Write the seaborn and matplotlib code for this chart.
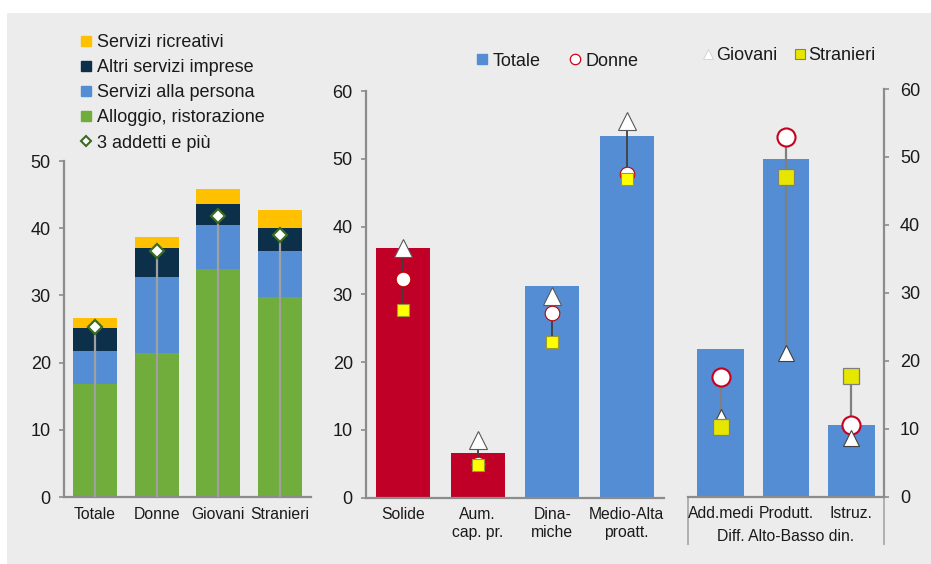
import numpy as np
import pandas as pd
import seaborn as sns
import matplotlib.pyplot as plt
from matplotlib.lines import Line2D
from matplotlib.patches import Rectangle

# ---- data: left panel (stacked) ----
groups = ["Totale", "Donne", "Giovani", "Stranieri"]
alloggio = [16.8, 21.4, 33.9, 29.8]
persona = [5.0, 11.3, 6.6, 6.8]
altri_imprese = [3.4, 4.4, 3.1, 3.5]
ricreativi = [1.4, 1.6, 2.2, 2.6]
addetti3 = [25.3, 36.6, 41.8, 39.0]

# ---- data: middle panel ----
mid_cats = ["Solide", "Aum.\ncap. pr.", "Dina-\nmiche", "Medio-Alta\nproatt."]
mid_totale = [36.8, 6.6, 31.2, 53.3]
mid_donne = [32.2, 4.9, 27.3, 47.7]
mid_giovani = [36.9, 8.5, 29.8, 55.6]
mid_stranieri = [27.7, 4.8, 22.9, 47.0]

# ---- data: right panel ----
right_cats = ["Add.medi", "Produtt.", "Istruz."]
right_group = "Diff. Alto-Basso din."
right_totale = [21.8, 49.7, 10.5]
right_donne = [17.6, 53.0, 10.5]
right_giovani = [11.8, 21.2, 8.6]
right_stranieri = [10.2, 47.0, 17.7]

# colours
BG = "#ececec"
AXC = "#8c8c8c"
TXT = "#1a1a1a"
GREEN = "#70ad3c"
BLUE = "#548dd4"
NAVY = "#0c2f4a"
YELLOW = "#ffc000"
RED = "#c00027"

TICK_FS = 13
CAT_FS = 11.3
LEG_FS = 13

sns.set_theme(style="white")
plt.rcParams["font.family"] = ["Liberation Sans", "DejaVu Sans"]
plt.rcParams["text.color"] = TXT

W, H = 931, 564
fig = plt.figure(figsize=(W / 100, H / 100), dpi=100)
fig.patch.set_facecolor("white")
fig.add_artist(Rectangle((7 / W, 0), 1, (H - 13) / H, transform=fig.transFigure,
                         facecolor=BG, edgecolor="none", zorder=-10))


def px_axes(x0, x1, y_top, y_bot):
    return fig.add_axes([x0 / W, 1 - y_bot / H, (x1 - x0) / W, (y_bot - y_top) / H])


def px(x, y):
    return (x / W, 1 - y / H)


def style_axes(ax, side, n):
    ax.set_facecolor("none")
    for s in ax.spines.values():
        s.set_visible(False)
    for s in ("bottom", side):
        ax.spines[s].set_visible(True)
        ax.spines[s].set_color(AXC)
        ax.spines[s].set_linewidth(1.6)
    if side == "right":
        ax.yaxis.tick_right()
    else:
        ax.yaxis.tick_left()
    ax.tick_params(axis="y", direction="out", length=3.5, width=1.2, color=AXC,
                   pad=6, labelsize=TICK_FS, labelcolor=TXT)
    ax.tick_params(axis="x", which="major", length=0, pad=7, labelsize=CAT_FS,
                   labelcolor=TXT)
    ax.set_xticks(np.arange(n + 1) - 0.5, minor=True)
    ax.tick_params(axis="x", which="minor", direction="out", length=3, width=1.2,
                   color=AXC)
    ax.set_xlim(-0.5, n - 0.5)
    ax.set_xlabel("")
    ax.set_ylabel("")


# =========================
# left panel
# =========================
ax1 = px_axes(64, 311, 161, 497)
layers = [alloggio, persona, altri_imprese, ricreativi]
colors = [GREEN, BLUE, NAVY, YELLOW]
cum = np.cumsum(np.array(layers), axis=0)
for level, c in zip(cum[::-1], colors[::-1]):
    sns.barplot(x=groups, y=level, color=c, saturation=1, width=0.71, linewidth=0, ax=ax1)
xs = np.arange(len(groups))
ax1.vlines(xs, 0, addetti3, color="#a0a0a0", lw=1.6, zorder=3)
ax1.plot(xs, addetti3, ls="none", marker="D", ms=7, mfc="white", mec="#3b6b22",
         mew=1.6, zorder=4, clip_on=False)
ax1.set_ylim(0, 50)
ax1.set_yticks(range(0, 51, 10))
style_axes(ax1, "left", len(groups))

fig.legend(
    handles=[
        Line2D([], [], ls="none", marker="s", ms=6.5, mfc=YELLOW, mec=YELLOW),
        Line2D([], [], ls="none", marker="s", ms=6.5, mfc=NAVY, mec=NAVY),
        Line2D([], [], ls="none", marker="s", ms=6.5, mfc=BLUE, mec=BLUE),
        Line2D([], [], ls="none", marker="s", ms=6.5, mfc=GREEN, mec=GREEN),
        Line2D([], [], ls="none", marker="D", ms=5, mfc="white", mec="#3b6b22", mew=1.5),
    ],
    labels=["Servizi ricreativi", "Altri servizi imprese", "Servizi alla persona",
            "Alloggio, ristorazione", "3 addetti e più"],
    loc="upper left", bbox_to_anchor=px(80, 34), frameon=False, borderpad=0,
    borderaxespad=0, handlelength=0.7, handletextpad=0.25, labelspacing=0.45,
    fontsize=LEG_FS,
)

# =========================
# middle panel
# =========================
ax2 = px_axes(366, 664, 91, 497.7)
mid_df = pd.DataFrame({"cat": mid_cats, "totale": mid_totale})
mid_pal = dict(zip(mid_cats, [RED, RED, BLUE, BLUE]))
sns.barplot(data=mid_df, x="cat", y="totale", hue="cat", palette=mid_pal,
            legend=False, saturation=1, width=0.72, linewidth=0, ax=ax2)
xm = np.arange(len(mid_cats))
mid_pts = np.array([mid_donne, mid_giovani, mid_stranieri])
ax2.vlines(xm, mid_pts.min(axis=0), mid_pts.max(axis=0), color="#404040", lw=1.3, zorder=3)
ax2.plot(xm, mid_donne, ls="none", marker="o", ms=10.5, mfc="white", mec="#c00000",
         mew=0.8, zorder=4, clip_on=False)
ax2.plot(xm, mid_giovani, ls="none", marker="^", ms=12.5, mfc="white", mec="#595959",
         mew=0.8, zorder=5, clip_on=False)
ax2.plot(xm, mid_stranieri, ls="none", marker="s", ms=8, mfc="#ffff00", mec="#9a9a30",
         mew=0.8, zorder=6, clip_on=False)
ax2.set_ylim(0, 60)
ax2.set_yticks(range(0, 61, 10))
style_axes(ax2, "left", len(mid_cats))

fig.legend(
    handles=[
        Line2D([], [], ls="none", marker="s", ms=6.5, mfc=BLUE, mec=BLUE),
        Line2D([], [], ls="none", marker="o", ms=7.5, mfc="white", mec="#d0021b", mew=0.9),
    ],
    labels=["Totale", "Donne"], ncol=2,
    loc="center left", bbox_to_anchor=px(476, 61), frameon=False, borderpad=0,
    borderaxespad=0, handlelength=0.7, handletextpad=0.2, columnspacing=1.6,
    fontsize=LEG_FS,
)

# =========================
# right panel
# =========================
ax3 = px_axes(688, 884, 89, 496.7)
sns.barplot(x=right_cats, y=right_totale, color=BLUE, saturation=1, width=0.71,
            linewidth=0, ax=ax3)
xr = np.arange(len(right_cats))
r_pts = np.array([right_donne, right_giovani, right_stranieri])
ax3.vlines(xr, r_pts.min(axis=0), r_pts.max(axis=0), color="#7f7f7f", lw=1.6, zorder=3)
ax3.plot(xr, right_donne, ls="none", marker="o", ms=13, mfc="white", mec="#c8001e",
         mew=1.5, zorder=4, clip_on=False)
ax3.plot(xr, right_giovani, ls="none", marker="^", ms=12, mfc="white", mec="#404040",
         mew=0.8, zorder=5, clip_on=False)
ax3.plot(xr, right_stranieri, ls="none", marker="s", ms=11, mfc="#e6e600", mec="#7f7f7f",
         mew=0.9, zorder=6, clip_on=False)
ax3.set_ylim(0, 60)
ax3.set_yticks(range(0, 61, 10))
style_axes(ax3, "right", len(right_cats))
ax3.tick_params(axis="y", which="major", pad=8)
ax3.set_xticks(np.arange(1, len(right_cats)) - 0.5, minor=True)
ax3.tick_params(axis="x", which="minor", length=16.5, color="#a6a6a6")
ax3.tick_params(axis="x", which="major", pad=7)
sec = ax3.secondary_xaxis("bottom")
sec.set_xticks([-0.5, len(right_cats) - 0.5])
sec.set_xticklabels([])
sec.tick_params(length=34.5, width=1.2, color="#a6a6a6")
sec.spines["bottom"].set_visible(False)
ax3.text((len(right_cats) - 1) / 2, -0.097, right_group, transform=ax3.get_xaxis_transform(),
         ha="center", va="center", fontsize=CAT_FS, color=TXT)

fig.legend(
    handles=[
        Line2D([], [], ls="none", marker="^", ms=7, mfc="white", mec="#d0d0d0", mew=0.6),
        Line2D([], [], ls="none", marker="s", ms=6.5, mfc="#e6e600", mec="#7f7f7f", mew=0.8),
    ],
    labels=["Giovani", "Stranieri"], ncol=2,
    loc="center left", bbox_to_anchor=px(702, 56), frameon=False, borderpad=0,
    borderaxespad=0, handlelength=0.7, handletextpad=0.1, columnspacing=0.9,
    fontsize=LEG_FS,
)

fig.savefig("out.png", dpi=100)
